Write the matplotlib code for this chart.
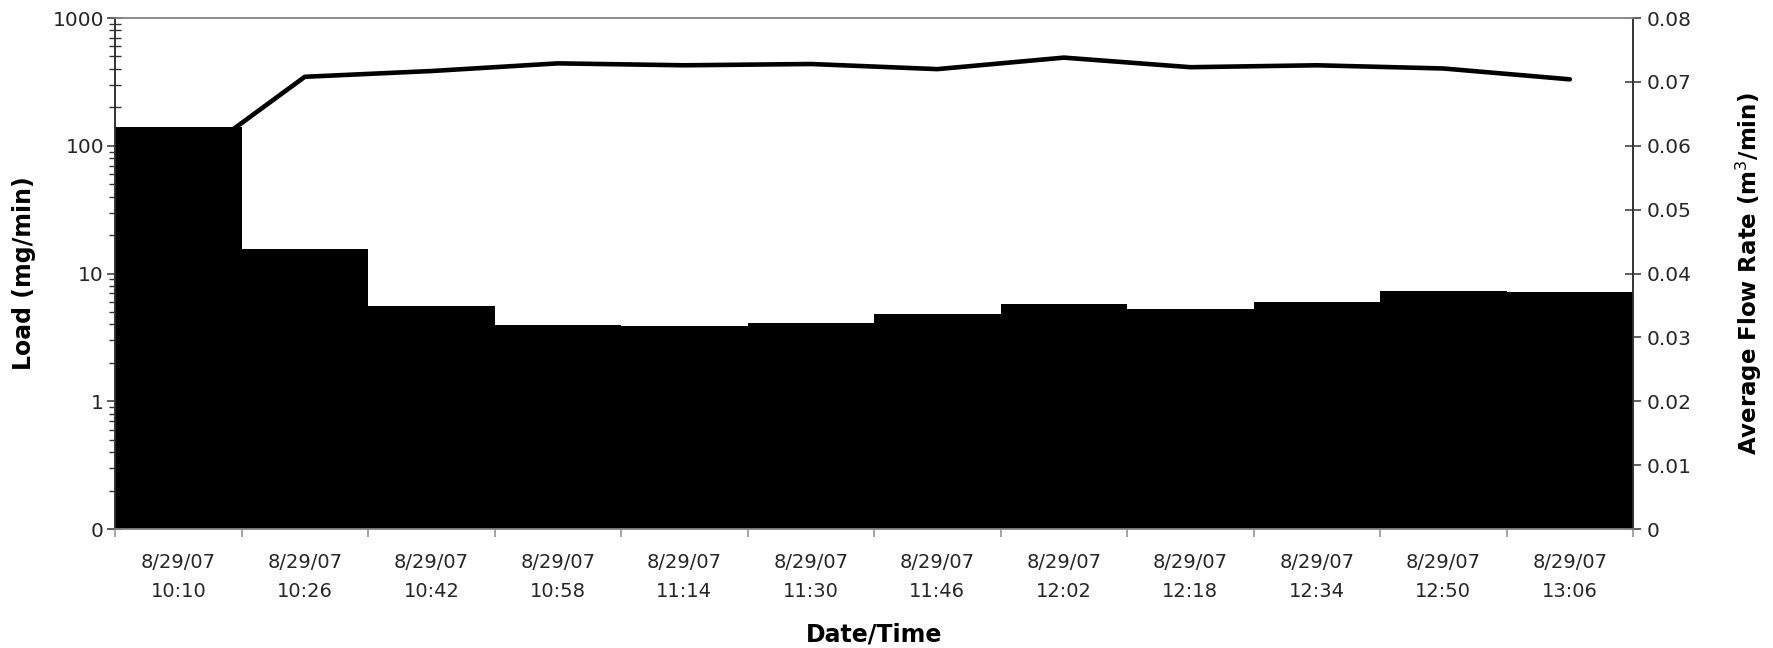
import numpy as np
import matplotlib
matplotlib.use("Agg")
import matplotlib.pyplot as plt
from matplotlib.ticker import FixedLocator, NullFormatter

DATES = ["8/29/07"] * 12
TIMES = ["10:10", "10:26", "10:42", "10:58", "11:14", "11:30",
         "11:46", "12:02", "12:18", "12:34", "12:50", "13:06"]
LOAD = [141, 15.5, 5.57, 3.95, 3.90, 4.07, 4.79, 5.74, 5.25, 5.98, 7.33, 7.13]       # mg/min
FLOW = [0.0563, 0.0708, 0.0717, 0.0729, 0.0726, 0.0728, 0.0720, 0.0738, 0.0723,
        0.0726, 0.0721, 0.0704]                                                     # m3/min

LOAD_TICKS = [0.1, 1, 10, 100, 1000]
LOAD_TICKLABELS = ["0", "1", "10", "100", "1000"]
FLOW_TICKS = [0, 0.01, 0.02, 0.03, 0.04, 0.05, 0.06, 0.07, 0.08]
FLOW_TICKLABELS = ["0", "0.01", "0.02", "0.03", "0.04", "0.05", "0.06", "0.07", "0.08"]

TEXT_GREY = "#262626"
DARK = "#333333"
LIGHT = "#8c8c8c"

plt.rcParams["font.family"] = "DejaVu Sans"

fig = plt.figure(figsize=(17.73, 6.48), dpi=100)
ax2 = fig.add_axes([0.0649, 0.1836, 0.8562, 0.7886])
ax1 = fig.add_axes(ax2.get_position(), sharex=ax2)
ax1.set_zorder(ax2.get_zorder() + 1)
ax1.patch.set_visible(False)

x = np.arange(len(LOAD))

# load bars (log scale, left)
ax1.bar(x, LOAD, width=1.0, color="black", linewidth=0)
ax1.set_yscale("log")
ax1.set_ylim(0.1, 1000)
ax1.set_axisbelow(True)
ax1.yaxis.set_major_locator(FixedLocator(LOAD_TICKS))
ax1.set_yticklabels(LOAD_TICKLABELS)
minor = [m * 10.0 ** e for e in range(-1, 3) for m in range(2, 10)]
ax1.yaxis.set_minor_locator(FixedLocator(minor))
ax1.yaxis.set_minor_formatter(NullFormatter())
ax1.tick_params(axis="y", which="major", direction="inout", length=12, width=1.1,
                color=DARK, labelsize=14.5, labelcolor=TEXT_GREY, pad=2)
ax1.tick_params(axis="y", which="minor", direction="inout", length=9, width=1.0, color=DARK)

# flow line (linear, right)
ax2.plot(x, FLOW, color="black", lw=3.3, solid_capstyle="round", solid_joinstyle="round")
ax2.set_ylim(0, 0.08)
ax2.yaxis.tick_right()
ax2.yaxis.set_label_position("right")
ax2.set_yticks(FLOW_TICKS)
ax2.set_yticklabels(FLOW_TICKLABELS)
ax2.tick_params(axis="y", direction="inout", length=12, width=1.1, color=DARK,
                labelsize=14.5, labelcolor=TEXT_GREY, pad=4)

# category axis: labels at centres, ticks at boundaries
ax1.set_xlim(-0.5, len(LOAD) - 0.5)
ax1.set_xticks(x)
ax1.set_xticklabels([f"{d}\n{t}" for d, t in zip(DATES, TIMES)], linespacing=1.67)
ax1.set_xticks(np.arange(len(LOAD) + 1) - 0.5, minor=True)
ax1.tick_params(axis="x", which="major", length=0, labelsize=14, labelcolor=TEXT_GREY, pad=17)
ax1.tick_params(axis="x", which="minor", direction="out", length=6, width=1.1, color=LIGHT)
ax2.tick_params(axis="x", which="both", length=0, labelbottom=False)

for ax in (ax1, ax2):
    ax.spines["left"].set_color(DARK)
    ax.spines["right"].set_color(DARK)
    ax.spines["top"].set_color(LIGHT)
    ax.spines["bottom"].set_color(LIGHT)
    for s in ax.spines.values():
        s.set_linewidth(1.2)

ax1.set_ylabel("Load (mg/min)", fontsize=17, fontweight="bold")
ax1.yaxis.set_label_coords(-0.052, 0.5)
ax2.set_ylabel("Average Flow Rate (m$^3$/min)", fontsize=16.5, fontweight="bold")
ax2.yaxis.set_label_coords(1.066, 0.5)
ax1.set_xlabel("Date/Time", fontsize=17, fontweight="bold")
ax1.xaxis.set_label_coords(0.5, -0.182)

fig.savefig("out.png", dpi=100)
